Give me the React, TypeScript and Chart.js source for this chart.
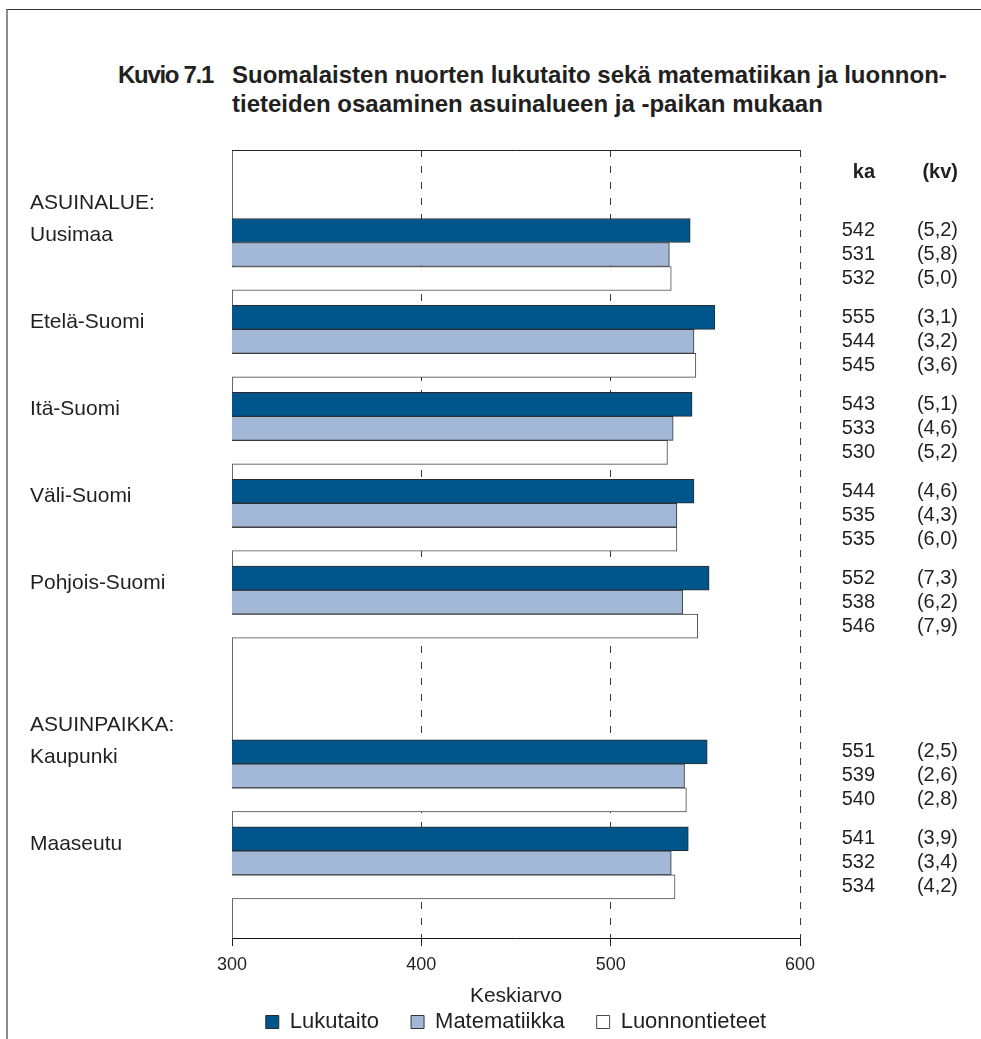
import React, { useEffect, useRef } from "react";
import { Chart, registerables } from "chart.js";

Chart.register(...registerables);

// ---- data ----
const titleLead = "Kuvio 7.1";
const titleLines = [
  "Suomalaisten nuorten lukutaito sekä matematiikan ja luonnon-",
  "tieteiden osaaminen asuinalueen ja -paikan mukaan",
];
const categories = ["Uusimaa", "Etelä-Suomi", "Itä-Suomi", "Väli-Suomi", "Pohjois-Suomi", "", "Kaupunki", "Maaseutu"];
const sectionHeaders = ["ASUINALUE:", "", "", "", "", "", "ASUINPAIKKA:", ""];
const seriesNames = ["Lukutaito", "Matematiikka", "Luonnontieteet"];
const lukutaito = [542, 555, 543, 544, 552, null, 551, 541];
const matematiikka = [531, 544, 533, 535, 538, null, 539, 532];
const luonnontieteet = [532, 545, 530, 535, 546, null, 540, 534];
const lukutaitoKv = ["(5,2)", "(3,1)", "(5,1)", "(4,6)", "(7,3)", "", "(2,5)", "(3,9)"];
const matematiikkaKv = ["(5,8)", "(3,2)", "(4,6)", "(4,3)", "(6,2)", "", "(2,6)", "(3,4)"];
const luonnontieteetKv = ["(5,0)", "(3,6)", "(5,2)", "(6,0)", "(7,9)", "", "(2,8)", "(4,2)"];
const xTicks = [300, 400, 500, 600];
const xMin = 300;
const xMax = 600;
const xAxisTitle = "Keskiarvo";
const valueHeader = "ka";
const errorHeader = "(kv)";

// ---- styles ----
const FONT = "'Liberation Sans', Arial, Helvetica, sans-serif";
const TEXT = "#231f20";
const fillColors = ["#00558a", "#a3b8d6", "#ffffff"];
const borderColors = ["#2b2b2b", "#333333", "#4a4a4a"];

const seriesValues = [lukutaito, matematiikka, luonnontieteet];
const seriesErrors = [lukutaitoKv, matematiikkaKv, luonnontieteetKv];

const sideTexts = {
  id: "sideTexts",
  afterDraw(chart: any) {
    const { ctx, chartArea } = chart;
    ctx.save();
    ctx.fillStyle = TEXT;
    ctx.textBaseline = "middle";
    ctx.textAlign = "right";
    ctx.font = `bold 20px ${FONT}`;
    ctx.fillText(valueHeader, chartArea.right + 75, chartArea.top + 22);
    ctx.fillText(errorHeader, chartArea.right + 158, chartArea.top + 22);
    ctx.font = `20px ${FONT}`;
    seriesValues.forEach((vals, d) => {
      const meta = chart.getDatasetMeta(d);
      const pts = chart.data.datasets[d].data;
      meta.data.forEach((el: any, j: number) => {
        const i = pts[j].y;
        ctx.fillText(String(vals[i]), chartArea.right + 75, el.y);
        ctx.fillText(seriesErrors[d][i], chartArea.right + 158, el.y);
      });
    });
    const meta0 = chart.getDatasetMeta(0);
    const pts0 = chart.data.datasets[0].data;
    ctx.textAlign = "left";
    ctx.font = `21px ${FONT}`;
    meta0.data.forEach((el: any, j: number) => {
      const i = pts0[j].y;
      ctx.fillText(categories[i], 30, el.y + 5);
      if (sectionHeaders[i]) ctx.fillText(sectionHeaders[i], 30, el.y - 27);
    });
    ctx.restore();
  },
};

function ChartCanvas() {
  const ref = useRef<HTMLCanvasElement | null>(null);
  useEffect(() => {
    if (!ref.current) return;
    const datasets = seriesNames.map((name, d) => ({
      label: name,
      data: categories
        .map((_, i) => ({ x: seriesValues[d][i], y: i }))
        .filter((p) => p.x !== null),
      backgroundColor: fillColors[d],
      borderColor: borderColors[d],
      borderWidth: 1,
      borderSkipped: false,
      barThickness: 24,
    }));
    const chart = new Chart(ref.current, {
      type: "bar",
      data: { datasets: datasets as any },
      plugins: [sideTexts],
      options: {
        indexAxis: "y",
        responsive: false,
        animation: false,
        layout: { padding: { left: 232, right: 181, top: 150, bottom: -4 } },
        scales: {
          y: {
            type: "linear",
            reverse: true,
            offset: false,
            min: -1.203,
            max: 7.865,
            grid: { display: false, drawTicks: false, offset: false },
            ticks: { display: false },
            border: { display: true, color: "#6a6a6a", width: 1 },
            afterBuildTicks: (s: any) => {
              s.ticks = categories.map((_, i) => ({ value: i }));
            },
            afterFit: (s: any) => {
              s.width = 0;
            },
          },
          x: {
            type: "linear",
            position: "bottom",
            min: xMin,
            max: xMax,
            afterBuildTicks: (s: any) => {
              s.ticks = xTicks.map((v) => ({ value: v }));
            },
            grid: { color: "#3a3a3a", lineWidth: 1, tickLength: 8, tickColor: "#222", drawTicks: true },
            border: { display: true, color: "#111", width: 1, dash: [7, 9] },
            ticks: { font: { family: FONT, size: 18 }, color: TEXT, padding: 8, maxRotation: 0 },
            title: {
              display: true,
              text: xAxisTitle,
              font: { family: FONT, size: 21 },
              color: TEXT,
              padding: { top: 0, bottom: -29.6 },
            },
            afterFit: (s: any) => {
              s.height = 41;
            },
          },
          x2: {
            type: "linear",
            position: "top",
            min: xMin,
            max: xMax,
            grid: { display: false, drawTicks: false },
            ticks: { display: false },
            border: { display: true, color: "#222", width: 1 },
            afterFit: (s: any) => {
              s.height = 0;
            },
          },
        },
        plugins: {
          legend: {
            position: "bottom",
            labels: {
              font: { family: FONT, size: 22 },
              color: TEXT,
              boxWidth: 13,
              boxHeight: 13,
              padding: 32,
            },
          },
          tooltip: { enabled: false },
        },
      } as any,
    });
    return () => chart.destroy();
  }, []);
  return <canvas ref={ref} width={981} height={1039} style={{ position: "absolute", left: 0, top: 0 }} />;
}

export default function App() {
  const titleStyle: React.CSSProperties = {
    position: "absolute",
    top: 60,
    font: `bold 24px ${FONT}`,
    lineHeight: "29px",
    color: TEXT,
    whiteSpace: "nowrap",
  };
  return (
    <div
      style={{
        position: "absolute",
        left: 0,
        top: 0,
        width: 981,
        height: 1039,
        overflow: "hidden",
        background: "#fff",
      }}
    >
      <div
        style={{
          position: "absolute",
          left: 6,
          top: 9,
          width: 1100,
          height: 1100,
          borderTop: "1px solid #333",
          borderLeft: "2px solid #8c8c8c",
        }}
      />
      <div style={{ ...titleStyle, left: 118, letterSpacing: "-1.3px" }}>{titleLead}</div>
      <div style={{ ...titleStyle, left: 232 }}>
        {titleLines.map((l, i) => (
          <div key={i}>{l}</div>
        ))}
      </div>
      <ChartCanvas />
    </div>
  );
}
